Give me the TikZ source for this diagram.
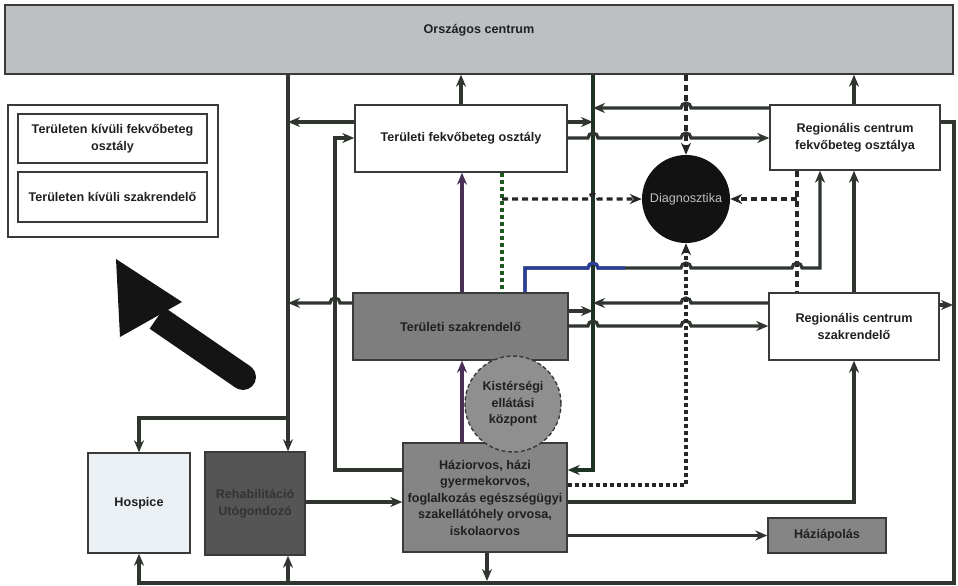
\documentclass[tikz,border=0pt]{standalone}
\usepackage{fontspec}
\setmainfont{Liberation Sans}
\usetikzlibrary{arrows.meta}
\definecolor{txt}{HTML}{202020}
\definecolor{bordc}{HTML}{3A3A3A}
\definecolor{linec}{HTML}{303530}
\definecolor{barc}{HTML}{BCC0C2}
\definecolor{midgray}{HTML}{858585}
\definecolor{darkgray}{HTML}{555555}
\definecolor{hosp}{HTML}{EAF0F4}
\definecolor{purp}{HTML}{4A2F55}
\definecolor{greenl}{HTML}{1F3324}
\definecolor{dgreen}{HTML}{1E5A1E}
\definecolor{bluel}{HTML}{2A3F9A}
\begin{document}
\begin{tikzpicture}[x=1pt,y=-1pt,
  every node/.style={font=\bfseries\fontsize{12.6}{16.5}\selectfont, text=txt},
  box/.style={draw=bordc, line width=1.4pt, rectangle, inner sep=0pt, align=center},
  tip/.style={-{Stealth[length=12pt,width=10pt]}},
  conn/.style={draw=linec, line width=3.2pt, tip},
  dsh/.style={draw=black!85, line width=3.2pt, dash pattern=on 6pt off 4pt},
  dshb/.style={draw=black!85, line width=3.2pt, dash pattern=on 4pt off 3pt},
  gdsh/.style={draw=dgreen, line width=3.6pt, dash pattern=on 4.5pt off 2.5pt}]
\useasboundingbox (0,0) rectangle (958,586);

% ---- nodes ----
\node[box, fill=barc, minimum width=948pt, minimum height=69pt] (bar) at (479,39.5) {};
\node (bartext) at (479,30) {Országos centrum};

\node[box, minimum width=210pt, minimum height=132pt] (legend) at (113,171) {};
\node[box, minimum width=189pt, minimum height=49pt] (kfekvo) at (112.5,138.5) {Területen kívüli fekvőbeteg\\osztály};
\node[box, minimum width=189pt, minimum height=50pt] (kszakr) at (112.5,197) {Területen kívüli szakrendelő};

\node[box, fill=white, minimum width=212pt, minimum height=67pt] (tfekvo) at (461,138.5) {Területi fekvőbeteg osztály};
\node[box, fill=midgray!95!black, minimum width=215pt, minimum height=67pt] (tszakr) at (460.5,326.5) {Területi szakrendelő};
\node[box, fill=midgray, minimum width=164pt, minimum height=109pt] (hazi) at (485,497.5) {Háziorvos, házi\\gyermekorvos,\\foglalkozás egészségügyi\\szakellátóhely orvosa,\\iskolaorvos};
\node[circle, fill=black!93, minimum size=88pt, inner sep=0pt, text=black!25, font=\fontsize{12.6}{15}\selectfont] (diag) at (686,199) {Diagnosztika};
\node[box, fill=white, minimum width=170pt, minimum height=65pt] (rfekvo) at (855,137.5) {Regionális centrum\\fekvőbeteg osztálya};
\node[box, fill=white, minimum width=170pt, minimum height=67pt] (rszakr) at (854,326.5) {Regionális centrum\\szakrendelő};
\node[box, fill=midgray, minimum width=118pt, minimum height=35pt] (haziap) at (827,535.5) {Háziápolás};
\node[box, fill=hosp, minimum width=102pt, minimum height=100pt] (hospice) at (139,503) {Hospice};
\node[box, fill=darkgray, minimum width=100pt, minimum height=103pt, text=black!80] (rehab) at (255,503.5) {Rehabilitáció\\Utógondozó};

% ---- big arrow ----
\fill[black!92] (164.4,307.3) -- (250.4,366.3) -- (235.6,387.7) -- (149.6,328.7) -- cycle;
\fill[black!92] (243,377) circle[radius=13];
\fill[black!92] (116,259) -- (182,302) -- (120,337) -- cycle;

% ---- connectors ----
\coordinate (j1) at (288,418);
\coordinate (j2) at (288,583);
\draw[conn] (288,0 |- bar.south) -- (288,0 |- rehab.north);
\draw[conn] (j1) -- (139,418) -- (hospice.north);
\draw[conn] (tfekvo.west |- 0,122) -- (288,122);
\draw[conn] (tszakr.west |- 0,303) -- (340,303) arc[start angle=0,end angle=-180,radius=5] -- (288,303);
\draw[conn] (hazi.west |- 0,470) -- (335,470) -- (335,138) -- (tfekvo.west |- 0,138);
\draw[conn, draw=purp] (hazi.north -| 462,0) -- (tszakr.south -| 462,0);
\draw[conn, draw=purp] (tszakr.north -| 462,0) -- (tfekvo.south -| 462,0);
\draw[conn] (tfekvo.north -| 461,0) -- (bar.south -| 461,0);
\draw[conn, draw=greenl, line width=3.8pt] (bar.south -| 593,0) -- (593,470) -- (hazi.east |- 0,470);
\draw[conn] (rfekvo.west |- 0,108) -- (691,108) arc[start angle=0,end angle=-180,radius=5] -- (593,108);
\draw[conn] (tfekvo.east |- 0,122) -- (593,122);
\draw[conn] (tfekvo.east |- 0,138) -- (588,138) arc[start angle=180,end angle=360,radius=5] -- (681,138) arc[start angle=180,end angle=360,radius=5] -- (rfekvo.west |- 0,138);
\draw[dsh, tip] (bar.south -| 686,0) -- (diag.north);
\draw[gdsh] (tfekvo.south -| 502,0) -- (tszakr.north -| 502,0);
\draw[dsh, tip] (502,199) -- (588,199) arc[start angle=180,end angle=360,radius=5] -- (diag.west);
\draw[dsh] (rfekvo.south -| 797,0) -- (rszakr.north -| 797,0);
\draw[dsh, tip] (797,199) -- (diag.east);
\draw[conn] (tszakr.north -| 525,0) -- (525,268) -- (588,268) arc[start angle=180,end angle=360,radius=5] -- (681,268) arc[start angle=180,end angle=360,radius=5] -- (792,268) arc[start angle=180,end angle=360,radius=5] -- (820,268) -- (rfekvo.south -| 820,0);
\draw[draw=bluel, line width=3.2pt] (tszakr.north -| 525,0) -- (525,268) -- (588,268) arc[start angle=180,end angle=360,radius=5] -- (625,268);
\draw[conn] (rszakr.north -| 854,0) -- (rfekvo.south -| 854,0);
\draw[conn] (rfekvo.north -| 854,0) -- (bar.south -| 854,0);
\draw[conn] (rszakr.west |- 0,303) -- (691,303) arc[start angle=0,end angle=-180,radius=5] -- (593,303);
\draw[conn] (tszakr.east |- 0,311) -- (593,311);
\draw[conn] (tszakr.east |- 0,326) -- (588,326) arc[start angle=180,end angle=360,radius=5] -- (681,326) arc[start angle=180,end angle=360,radius=5] -- (rszakr.west |- 0,326);
\draw[dshb, tip] (hazi.east |- 0,485) -- (686,485) -- (diag.south);
\draw[conn] (hazi.east |- 0,502) -- (854,502) -- (rszakr.south -| 854,0);
\draw[conn] (hazi.east |- 0,535.5) -- (haziap.west);
\draw[conn] (hazi.south -| 487,0) -- (487,581);
\draw[conn] (rehab.east |- 0,502) -- (hazi.west |- 0,502);
\draw[conn] (rfekvo.east |- 0,122) -- (954,122) -- (954,583) -- (139,583) -- (hospice.south);
\draw[conn] (j2) -- (288,0 |- rehab.south);
\draw[conn] (rszakr.east |- 0,305) -- (953,305);

% circle on top of boxes
\node[circle, draw=bordc, line width=1.4pt, dash pattern=on 4pt off 2.5pt, fill=midgray!92!white, minimum size=96pt, inner sep=0pt, align=center] (kist) at (513,404) {Kistérségi\\ellátási\\központ};
\end{tikzpicture}
\end{document}
